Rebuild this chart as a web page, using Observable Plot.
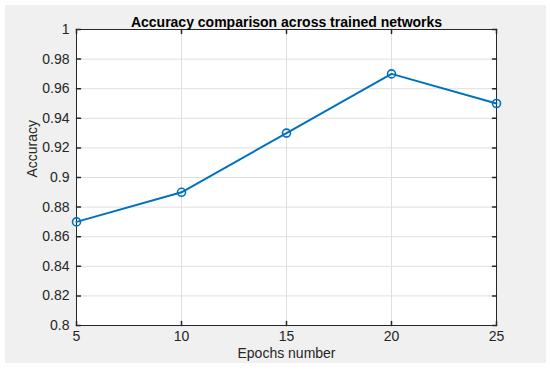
<!DOCTYPE html>
<html>
<head>
<meta charset="utf-8">
<script src="https://cdn.jsdelivr.net/npm/d3@7"></script>
<script src="https://cdn.jsdelivr.net/npm/@observablehq/plot@0.6"></script>
<style>
  html, body { margin: 0; padding: 0; background: #ffffff; }
  #wrap { position: relative; width: 550px; height: 371px; overflow: hidden; }
  #bg { position: absolute; left: 5px; top: 5px; width: 541px; height: 358px; background: #f0f0f0; }
  #chart { position: absolute; left: 0; top: 0; }
</style>
</head>
<body>
<div id="wrap"><div id="bg"></div><div id="chart"></div></div>
<script>
const epochs = [5, 10, 15, 20, 25];
const accuracy = [0.87, 0.89, 0.93, 0.97, 0.95];
const xTicks = [5, 10, 15, 20, 25];
const yTicks = [0.8, 0.82, 0.84, 0.86, 0.88, 0.9, 0.92, 0.94, 0.96, 0.98, 1];
const titleText = "Accuracy comparison across trained networks";
const xLabel = "Epochs number";
const yLabel = "Accuracy";

const data = epochs.map((e, i) => ({epoch: e, acc: accuracy[i]}));
const ink = "#262626";
const tickShape = {draw(context, l) { context.moveTo(0, 0); context.lineTo(0, -l); }};
const tickLen = 4;

const chart = Plot.plot({
  width: 550,
  height: 371,
  marginLeft: 76,
  marginRight: 54,
  marginTop: 29,
  marginBottom: 46,
  style: {background: "transparent", fontFamily: "'Liberation Sans', Arial, Helvetica, sans-serif", fontSize: "14px", color: ink},
  x: {domain: [5, 25], label: null},
  y: {domain: [0.8, 1], label: null},
  marks: [
    Plot.frame({fill: "white"}),
    Plot.gridX(xTicks, {stroke: "#dfdfdf", strokeOpacity: 1}),
    Plot.gridY(yTicks, {stroke: "#dfdfdf", strokeOpacity: 1}),
    Plot.axisX(xTicks, {tickSize: 0, tickPadding: 6, fontSize: 14, fill: ink, label: null}),
    Plot.axisY(yTicks, {tickSize: 0, tickPadding: 7, fontSize: 14, fill: ink, label: null, tickFormat: d => String(d)}),
    Plot.vector(xTicks, {x: d => d, y: 0.8, length: tickLen, rotate: 0, anchor: "start", shape: tickShape, stroke: ink}),
    Plot.vector(xTicks, {x: d => d, y: 1, length: tickLen, rotate: 180, anchor: "start", shape: tickShape, stroke: ink}),
    Plot.vector(yTicks, {x: 5, y: d => d, length: tickLen, rotate: 90, anchor: "start", shape: tickShape, stroke: ink}),
    Plot.vector(yTicks, {x: 25, y: d => d, length: tickLen, rotate: -90, anchor: "start", shape: tickShape, stroke: ink}),
    Plot.frame({stroke: ink, strokeWidth: 1}),
    Plot.line(data, {x: "epoch", y: "acc", stroke: "#0072BD", strokeWidth: 2}),
    Plot.dot(data, {x: "epoch", y: "acc", r: 4, stroke: "#0072BD", strokeWidth: 1.6, fill: "none"}),
    Plot.text([titleText], {text: d => d, frameAnchor: "top", dy: -12, fontWeight: "bold", fontSize: 14, fill: "#000"}),
    Plot.text([xLabel], {text: d => d, frameAnchor: "bottom", dy: 32, fontSize: 14, fill: ink}),
    Plot.text([yLabel], {text: d => d, frameAnchor: "left", dx: -44, rotate: -90, fontSize: 14, fill: ink})
  ]
});
document.getElementById("chart").appendChild(chart);
</script>
</body>
</html>
